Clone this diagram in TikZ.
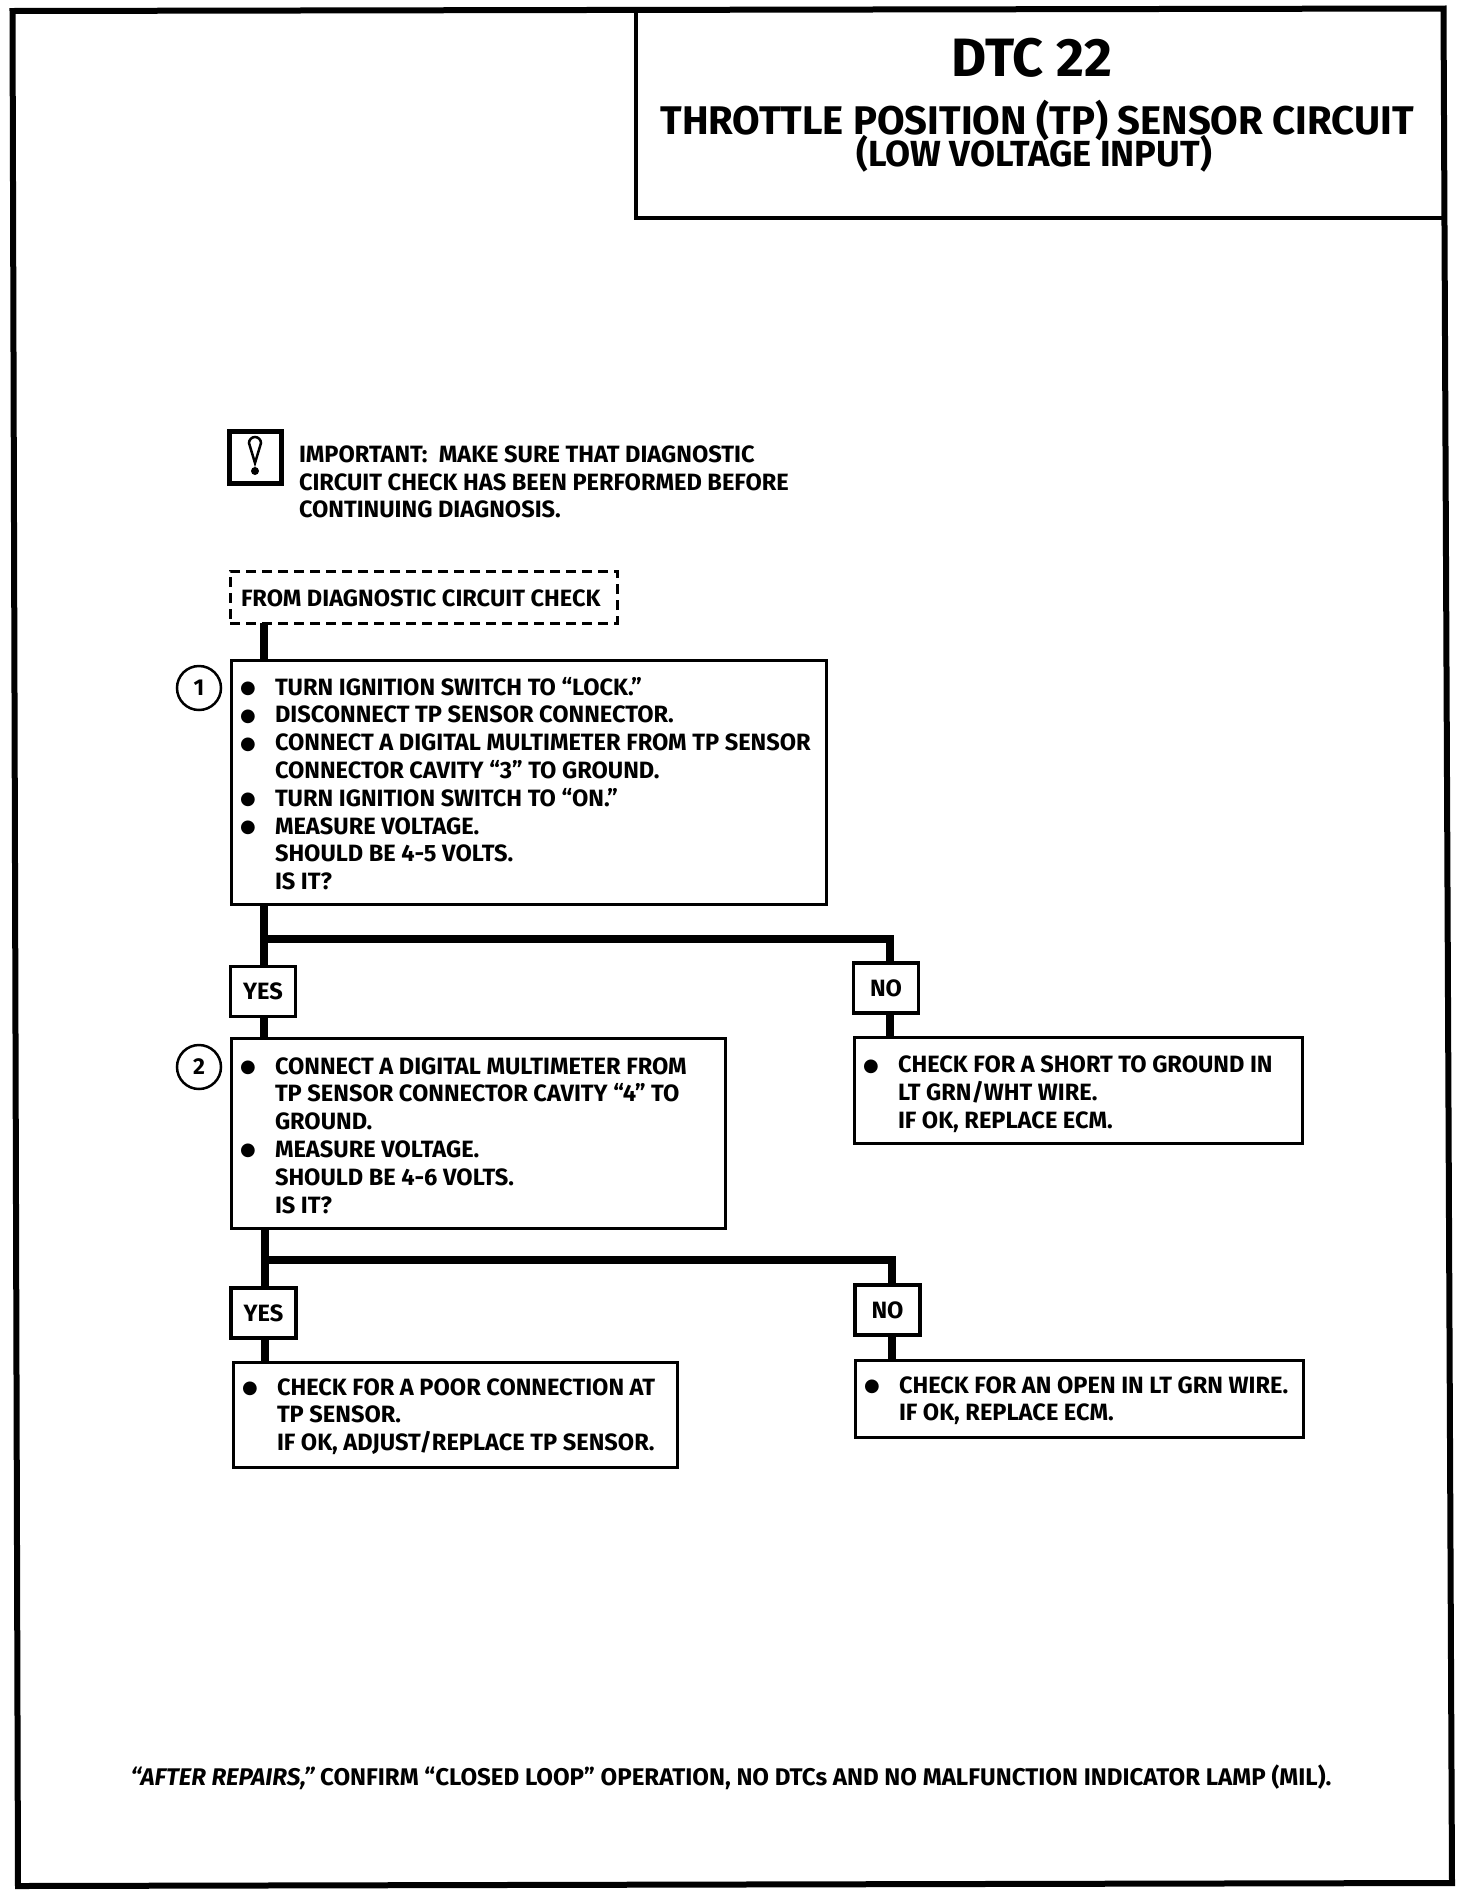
\documentclass[tikz,border=0pt]{standalone}
\usepackage{fontspec}
\setmainfont{Fira Sans}
\newfontfamily\symf{DejaVu Sans}
\newcommand{\bul}{\makebox[44pt][l]{\hspace{9pt}\makebox[16pt]{\raisebox{1.5pt}[0pt][0pt]{\symf\fontsize{18}{20}\selectfont ●}}}}
\newcommand{\cont}{\makebox[44pt][l]{}}
\newcommand{\topr}[1]{\spaceskip=0pt\xspaceskip=0pt\rule{0pt}{#1pt}}
\newcommand{\botr}[1]{\rule[-#1pt]{0pt}{#1pt}}
\tikzset{
  x=1pt,y=-1pt,
  base/.style={font=\fontsize{23.6}{27.8}\selectfont\bfseries},
  stepbox/.style={base,draw,line width=3pt,outer sep=0pt,inner ysep=0pt,inner xsep=0pt,anchor=north west,align=left},
  answer/.style={base,draw,line width=3.5pt,outer sep=0pt,inner sep=0pt,minimum width=65pt,minimum height=50pt},
  flow/.style={line width=7.5pt},
  tag/.style={draw,circle,line width=2.5pt,minimum size=44pt,inner sep=0pt,outer sep=0pt,font=\fontsize{23}{26}\selectfont\bfseries},
  plain/.style={base,inner sep=0pt,outer sep=0pt,anchor=base west},
}
\begin{document}
\begin{tikzpicture}
\useasboundingbox (0,0) rectangle (1472,1896);
% outer frame
\draw[line width=6pt,line join=miter] (12.5,11) -- (1443.5,8.5) -- (1452,1883) -- (18,1886) -- cycle;
% title
\node[draw,line width=3.5pt,outer sep=0pt,minimum width=808pt,minimum height=209pt,anchor=north west] (title) at (636,9) {};
\node[font=\fontsize{54}{60}\selectfont\bfseries,anchor=base,inner sep=0pt] (dtc) at (1032,76) {DTC 22};
\node[font=\fontsize{40}{46}\selectfont\bfseries,anchor=base,inner sep=0pt] (tps) at (1037,134) {THROTTLE POSITION (TP) SENSOR CIRCUIT};
\node[font=\fontsize{36.3}{42}\selectfont\bfseries,anchor=base,inner sep=0pt] (lvi) at (1034,166) {(LOW VOLTAGE INPUT)};
% important
\node[draw,line width=5pt,outer sep=0pt,minimum width=52pt,minimum height=52pt,anchor=north west] (warn) at (229,431) {};
\draw[line width=2.5pt] (warn.center) ++(-6,-14) arc[start angle=180,end angle=360,radius=6] -- ++(-6,20) -- cycle;
\fill (warn.center) ++(0,14) circle (4pt);
\node[plain] (imp1) at (299,462) {IMPORTANT:\ \ MAKE SURE THAT DIAGNOSTIC};
\node[plain] (imp2) at (299,490) {CIRCUIT CHECK HAS BEEN PERFORMED BEFORE};
\node[plain] (imp3) at (299,517) {CONTINUING DIAGNOSIS.};
% from
\node[draw,dash pattern=on 10pt off 6pt,line width=3pt,outer sep=0pt,minimum width=387pt,minimum height=52pt,anchor=north west] (from) at (230,571) {};
\node[plain] (fromt) at (241,606.5) {FROM DIAGNOSTIC CIRCUIT CHECK};
% steps
\node[stepbox,text width=595pt] (box1) at (231,660) {\topr{35}\bul TURN IGNITION SWITCH TO “LOCK.”\\
\bul DISCONNECT TP SENSOR CONNECTOR.\\
\bul CONNECT A DIGITAL MULTIMETER FROM TP SENSOR\\
\cont CONNECTOR CAVITY “3” TO GROUND.\\
\bul TURN IGNITION SWITCH TO “ON.”\\
\bul MEASURE VOLTAGE.\\
\cont SHOULD BE 4-5 VOLTS.\\
\cont IS IT?\botr{15}};
\node[tag] (c1) at (199,688) {1};
\node[answer] (yes1) at (263,991.5) {YES};
\node[answer] (no1) at (886,988) {NO};
\node[stepbox,text width=494pt] (box2) at (231,1038.5) {\topr{35.5}\bul CONNECT A DIGITAL MULTIMETER FROM\\
\cont TP SENSOR CONNECTOR CAVITY “4” TO\\
\cont GROUND.\\
\bul MEASURE VOLTAGE.\\
\cont SHOULD BE 4-6 VOLTS.\\
\cont IS IT?\botr{15}};
\node[tag] (c2) at (199,1067) {2};
\node[stepbox,text width=448pt] (box4) at (854,1037) {\topr{35.5}\bul CHECK FOR A SHORT TO GROUND IN\\
\cont LT GRN/WHT WIRE.\\
\cont IF OK, REPLACE ECM.\botr{15}};
\node[answer] (yes2) at (263.5,1313) {YES};
\node[answer] (no2) at (887.5,1310) {NO};
\node[stepbox,text width=444pt] (box3) at (233,1362) {\topr{33}\bul CHECK FOR A POOR CONNECTION AT\\
\cont TP SENSOR.\\
\cont IF OK, ADJUST/REPLACE TP SENSOR.\botr{16.5}};
\node[stepbox,text width=448pt] (box5) at (855,1360) {\topr{33}\bul CHECK FOR AN OPEN IN LT GRN WIRE.\\
\cont IF OK, REPLACE ECM.\botr{17}};
% footer
\node[plain,anchor=base,font=\fontsize{24.1}{28}\selectfont\bfseries] (foot) at (731,1785) {{\itshape “AFTER REPAIRS,”} CONFIRM “CLOSED LOOP” OPERATION, NO DTCs AND NO MALFUNCTION INDICATOR LAMP (MIL).};
% connectors
\coordinate (j1) at (264,939);
\coordinate (n1) at (890,939);
\coordinate (j2) at (265,1260);
\coordinate (n2) at (892,1260);
\draw[flow] (from.south -| j1) -- (box1.north -| j1);
\draw[flow] (box1.south -| j1) -- (yes1.north -| j1);
\draw[flow] (yes1.south -| j1) -- (box2.north -| j1);
\draw[flow,line join=miter] (j1) -- (n1) -- (no1.north -| n1);
\draw[flow] (no1.south -| n1) -- (box4.north -| n1);
\draw[flow] (box2.south -| j2) -- (yes2.north -| j2);
\draw[flow] (yes2.south -| j2) -- (box3.north -| j2);
\draw[flow,line join=miter] (j2) -- (n2) -- (no2.north -| n2);
\draw[flow] (no2.south -| n2) -- (box5.north -| n2);
\end{tikzpicture}
\end{document}
